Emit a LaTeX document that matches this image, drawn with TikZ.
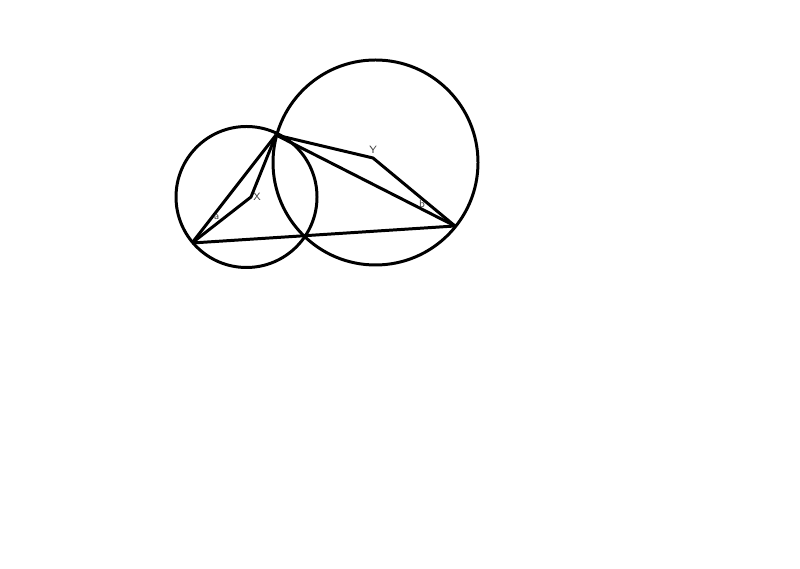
\documentclass[tikz,border=0pt]{standalone}
\usepackage{tikz}
\usetikzlibrary{positioning}

\begin{document}
\begin{tikzpicture}[scale=1.0]
% Define styles
\tikzset{
  edge/.style={draw=black,line width=1.7pt,line join=round},
  ring/.style={draw=black,line width=1.7pt},
  tag/.style={font=\fontsize{6}{7}\selectfont\sffamily,text=black!75,inner sep=0pt}
}
\useasboundingbox (0,0) rectangle (16,11.38);

% Points of the figure
\coordinate (A) at (3.84,6.52);
\coordinate (P) at (5.52,8.68);
\coordinate (X) at (5.02,7.44);
\coordinate (Y) at (7.46,8.22);
\coordinate (B) at (9.10,6.86);

% Circles
\draw[ring] (4.93,7.44) circle (1.41);
\draw[ring] (7.51,8.13) circle (2.05);

% Segments
\draw[edge] (A) -- (P);
\draw[edge] (A) -- (X) -- (P);
\draw[edge] (P) -- (Y) -- (B);
\draw[edge] (P) -- (B);
\draw[edge] (A) -- (B);

% Labels
\node[tag] (la) at (4.33,7.03) {a};
\node[tag,right=0.04 of X] (lx) {X};
\node[tag,above=0.08 of Y] (ly) {Y};
\node[tag] (lb) at (8.44,7.31) {b};
\end{tikzpicture}
\end{document}
